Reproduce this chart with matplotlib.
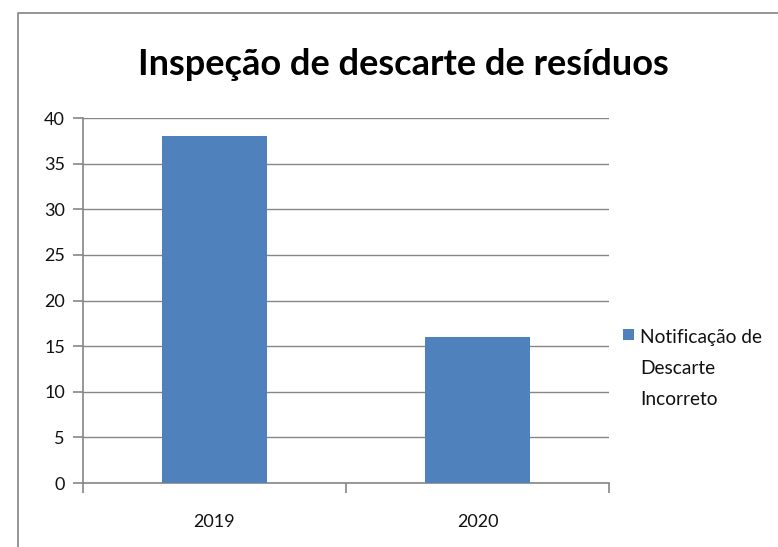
import matplotlib
matplotlib.use("Agg")
import matplotlib.pyplot as plt
from matplotlib.lines import Line2D
from matplotlib.patches import Rectangle
from matplotlib.legend_handler import HandlerPatch

# Data
years = ["2019", "2020"]
notificacoes = [38, 16]
y_ticks = [0, 5, 10, 15, 20, 25, 30, 35, 40]
series_label = "Notificação de\nDescarte\nIncorreto"

plt.rcParams["font.family"] = ["Lato", "DejaVu Sans"]

fig = plt.figure(figsize=(7.78, 5.47), dpi=100)
fig.patch.set_facecolor("white")

# chart border (top and left edges visible)
fig.add_artist(Line2D([18 / 778, 18 / 778, 1.0], [0.0, 1 - 13 / 547, 1 - 13 / 547],
                      transform=fig.transFigure, color="#8c8c8c", linewidth=1.3))

ax = fig.add_axes([83 / 778, 1 - 483 / 547, 526 / 778, 365 / 547])

x = list(range(len(years)))
bars = ax.bar(x, notificacoes, width=0.4, color="#4F81BD", zorder=3,
              label=series_label)

ax.set_xlim(-0.5, len(years) - 0.5)
ax.set_ylim(0, 40)
ax.set_yticks(y_ticks)
ax.set_xticks(x)
ax.set_xticklabels(years)
ax.set_xticks([-0.5, 0.5, 1.5], minor=True)

grey = "#868686"
ax.yaxis.grid(True, color=grey, linewidth=1.0, zorder=0)
ax.set_axisbelow(True)
for side in ["top", "right"]:
    ax.spines[side].set_visible(False)
for side in ["left", "bottom"]:
    ax.spines[side].set_color(grey)
    ax.spines[side].set_linewidth(1.2)

ax.tick_params(axis="y", direction="out", length=7, width=1.2, color=grey,
               labelsize=13, labelcolor="#111111", pad=6)
ax.tick_params(axis="x", which="major", length=0, labelsize=13,
               labelcolor="#111111", pad=22)
ax.tick_params(axis="x", which="minor", direction="out", length=7,
               width=1.2, color=grey)

fig.text(403 / 778, 1 - 75 / 547, "Inspeção de descarte de resíduos",
         ha="center", va="baseline", fontsize=26, fontweight="bold",
         color="black")


# legend swatch sits next to the first line of the label
def top_square(legend, orig_handle, xdescent, ydescent, width, height, fontsize):
    size = 0.58 * fontsize
    return Rectangle((-xdescent, -ydescent + height - size + 9), size, size)


leg = fig.legend(handles=[bars.patches[0]], labels=[series_label], loc="upper left",
                 bbox_to_anchor=(623 / 778, 1 - 329 / 547), frameon=False,
                 fontsize=13.8, handlelength=0.6, handleheight=4.3,
                 handletextpad=0.3, borderpad=0, borderaxespad=0,
                 handler_map={Rectangle: HandlerPatch(patch_func=top_square)})
for t in leg.get_texts():
    t.set_linespacing(2.0)
    t.set_color("#111111")

fig.savefig("out.png", dpi=100)
